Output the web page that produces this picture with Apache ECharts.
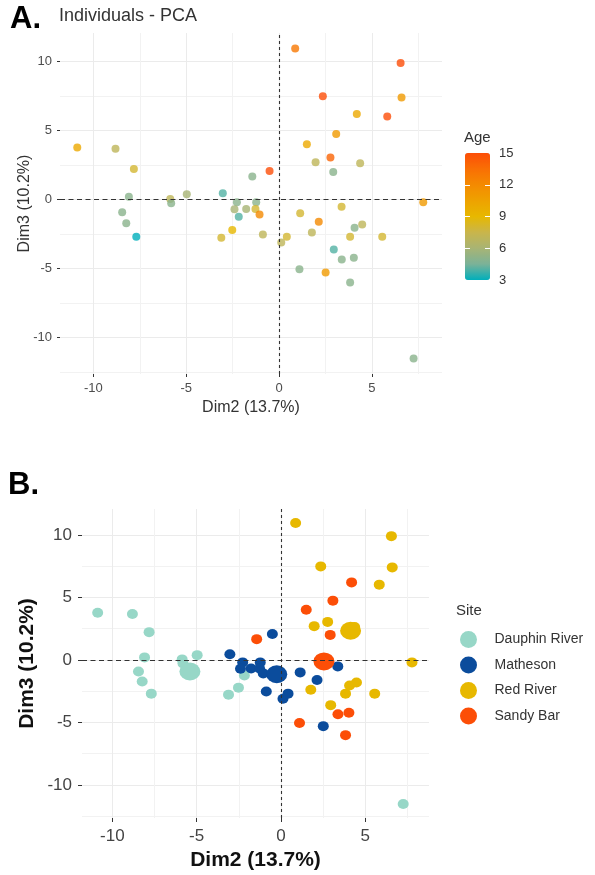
<!DOCTYPE html>
<html>
<head>
<meta charset="utf-8">
<script src="https://cdn.jsdelivr.net/npm/echarts@6/dist/echarts.min.js"></script>
<style>
  html, body { margin: 0; padding: 0; background: #fff; }
  #chart { width: 595px; height: 875px; }
</style>
</head>
<body>
<div id="chart"></div>
<script>
// PCA individual scores (Dim2, Dim3), fish age and sampling site
const dim2 = [0.87, -10.87, -8.81, -7.82, -1.44, -0.51, -8.09, -5.86, -5.81, -4.97,
  -3.03, -8.45, -8.23, -7.69, -3.11, -2.52, -2.27, -2.40, -2.17, -1.77,
  -1.23, -1.27, -1.05, -0.87, 0.12, 0.42, 1.14, 1.10, 6.55, 2.36,
  6.60, 4.19, 5.83, 3.08, 1.50, 1.97, 2.77, 4.37, 2.92, 2.14,
  1.77, 3.37, 4.07, 4.48, 3.83, 5.56, 2.95, 3.38, 4.03, 2.51,
  3.83, 7.77, 7.25];
const dim3 = [10.95, 3.77, 3.67, 2.22, 1.66, 2.07, 0.20, 0.04, -0.28, 0.38,
  0.45, -0.93, -1.73, -2.70, -2.78, -2.22, -0.20, -0.71, -1.25, -0.69,
  -0.20, -0.69, -1.08, -2.53, -3.11, -2.70, -1.00, -5.05, 9.90, 7.48,
  7.40, 6.20, 6.02, 4.74, 4.01, 2.70, 3.04, 2.63, 2.00, -1.61,
  -2.39, -0.52, -2.05, -1.81, -2.70, -2.70, -3.62, -4.35, -4.23, -5.30,
  -6.02, -0.20, -11.53];
const age = [13, 10, 7, 8, 5, 15, 5, 7, 5, 6,
  4, 5, 5, 3, 8, 9, 5, 6, 4, 6,
  5, 8, 12, 7, 7, 8, 8, 5, 15, 15,
  11, 10, 15, 11, 10, 7, 14, 7, 5, 12,
  7, 8, 5, 7, 8, 8, 4, 5, 5, 11,
  5, 11, 5];
const site = ['R', 'D', 'D', 'D', 'S', 'M', 'D', 'D', 'D', 'D',
  'M', 'D', 'D', 'D', 'D', 'D', 'M', 'M', 'D', 'M',
  'M', 'M', 'M', 'M', 'M', 'M', 'M', 'S', 'R', 'R',
  'R', 'S', 'R', 'S', 'S', 'R', 'R', 'R', 'S', 'M',
  'R', 'M', 'R', 'R', 'R', 'R', 'R', 'S', 'S', 'M',
  'S', 'R', 'D'];

// site groups and their mean points
const siteCodes = ['D', 'M', 'R', 'S'];
const siteNames = ['Dauphin River', 'Matheson', 'Red River', 'Sandy Bar'];
const siteColors = ['#97D7C7', '#0B4C9C', '#E7B800', '#FC4E07'];
const meanDim2 = [-5.40, -0.25, 4.13, 2.55];
const meanDim3 = [-0.93, -1.15, 2.33, -0.12];

// axis breaks
const xMajor = [-10, -5, 0, 5];
const xMinor = [-7.5, -2.5, 2.5, 7.5];
const yMajor = [-10, -5, 0, 5, 10];
const yMinor = [-12.5, -7.5, -2.5, 2.5, 7.5];
const ageBreaks = [3, 6, 9, 12, 15];
const ageInnerBreaks = [6, 9, 12];
const ageColors = ['#00AFBB', '#7BB298', '#A8B474', '#C9B54B', '#E7B800',
  '#EEA200', '#F48A01', '#F96F04', '#FC4E07'];

const FONT = 'Liberation Sans';
const X_RANGE = [-11.8, 8.78];
const Y_RANGE = [-12.65, 12.07];
const ellipse = 'path://M0,1A1,1 0 1,1 2,1A1,1 0 1,1 0,1Z';

function majorAxis(grid, ticks, big, extra) {
  return Object.assign({
    type: 'value', gridIndex: grid,
    axisLine: { show: false, onZero: false },
    axisTick: { show: true, length: big ? 4 : 3, customValues: ticks,
      lineStyle: { color: '#333', width: 1 } },
    axisLabel: { customValues: ticks, fontSize: big ? 17 : 13, color: big ? '#444' : '#4D4D4D',
      fontFamily: FONT, margin: big ? 10 : 8 },
    splitLine: { show: true, lineStyle: { color: '#EBEBEB', width: 1 } },
    nameMoveOverlap: false
  }, extra);
}
function minorAxis(grid, ticks, extra) {
  return Object.assign({
    type: 'value', gridIndex: grid,
    axisLine: { show: false, onZero: false },
    axisTick: { show: false, customValues: ticks },
    axisLabel: { show: false },
    splitLine: { show: true, lineStyle: { color: '#F2F2F2', width: 1 } }
  }, extra);
}

const zeroLines = (xi, yi) => ({
  type: 'scatter', xAxisIndex: xi, yAxisIndex: yi, data: [], z: 1, silent: true,
  markLine: {
    silent: true, symbol: 'none', animation: false, label: { show: false },
    data: [
      { xAxis: 0, lineStyle: { color: '#333', width: 1.1, type: [3, 3] } },
      { yAxis: 0, lineStyle: { color: '#333', width: 1.1, type: [5, 3.5] } }
    ]
  }
});

const xr = { min: X_RANGE[0], max: X_RANGE[1] };
const yr = { min: Y_RANGE[0], max: Y_RANGE[1] };

const siteSeries = siteCodes.map((code, k) => {
  const pts = [];
  for (let i = 0; i < dim2.length; i++) {
    if (site[i] === code) pts.push([dim2[i], dim3[i]]);
  }
  pts.push({ value: [meanDim2[k], meanDim3[k]], symbolSize: [21, 18] });
  return {
    type: 'scatter', name: siteNames[k], xAxisIndex: 2, yAxisIndex: 2,
    symbol: ellipse, symbolSize: [11, 10], z: 3,
    itemStyle: { color: siteColors[k], opacity: 1 },
    data: pts
  };
});

const option = {
  animation: false,
  textStyle: { fontFamily: FONT },
  title: [
    { text: 'A.', left: 10, top: 4, padding: 0,
      textStyle: { fontSize: 31, fontWeight: 'bold', color: '#000', fontFamily: FONT } },
    { text: 'Individuals - PCA', left: 59, top: 7, padding: 0,
      textStyle: { fontSize: 18, fontWeight: 'normal', color: '#333', fontFamily: FONT } },
    { text: 'Age', left: 464, top: 130, padding: 0,
      textStyle: { fontSize: 15, fontWeight: 'normal', color: '#333', fontFamily: FONT } },
    { text: 'B.', left: 8, top: 470, padding: 0,
      textStyle: { fontSize: 31, fontWeight: 'bold', color: '#000', fontFamily: FONT } },
    { text: 'Site', left: 456, top: 603, padding: 0,
      textStyle: { fontSize: 15, fontWeight: 'normal', color: '#333', fontFamily: FONT } }
  ],
  grid: [
    { left: 60, top: 33, width: 382, height: 341, outerBoundsMode: 'none' },
    { left: 82, top: 509, width: 347, height: 309, outerBoundsMode: 'none' },
    { left: 465, top: 153, width: 25, height: 127, outerBoundsMode: 'none' }
  ],
  xAxis: [
    majorAxis(0, xMajor, false, Object.assign({
      name: 'Dim2 (13.7%)', nameLocation: 'middle', nameGap: 26,
      nameTextStyle: { fontSize: 16, color: '#333', fontFamily: FONT }
    }, xr)),
    minorAxis(0, xMinor, xr),
    majorAxis(1, xMajor, true, Object.assign({
      name: 'Dim2 (13.7%)', nameLocation: 'middle', nameGap: 32,
      nameTextStyle: { fontSize: 21, fontWeight: 'bold', color: '#111', fontFamily: FONT }
    }, xr)),
    minorAxis(1, xMinor, xr),
    { type: 'value', gridIndex: 2, show: false, min: 0, max: 1 }
  ],
  yAxis: [
    majorAxis(0, yMajor, false, Object.assign({
      name: 'Dim3 (10.2%)', nameLocation: 'middle', nameGap: 27,
      nameTextStyle: { fontSize: 16, color: '#333', fontFamily: FONT }
    }, yr)),
    minorAxis(0, yMinor, yr),
    majorAxis(1, yMajor, true, Object.assign({
      name: 'Dim3 (10.2%)', nameLocation: 'middle', nameGap: 44,
      nameTextStyle: { fontSize: 21, fontWeight: 'bold', color: '#111', fontFamily: FONT }
    }, yr)),
    minorAxis(1, yMinor, yr),
    {
      type: 'value', gridIndex: 2, position: 'right', min: 3, max: 15, z: 10,
      axisLine: { show: false, onZero: false },
      axisTick: { show: true, inside: true, length: 5, customValues: ageInnerBreaks,
        lineStyle: { color: '#fff', width: 1 } },
      axisLabel: { customValues: ageBreaks, fontSize: 13, color: '#333', fontFamily: FONT, margin: 9 },
      splitLine: { show: false }
    },
    {
      type: 'value', gridIndex: 2, position: 'left', min: 3, max: 15, z: 10,
      axisLine: { show: false, onZero: false },
      axisTick: { show: true, inside: true, length: 5, customValues: ageInnerBreaks,
        lineStyle: { color: '#fff', width: 1 } },
      axisLabel: { show: false },
      splitLine: { show: false }
    }
  ],
  visualMap: {
    type: 'continuous', seriesIndex: 0, dimension: 2, min: 3, max: 15,
    left: 465, top: 153, itemWidth: 25, itemHeight: 127, padding: 0,
    calculable: false, hoverLink: false, text: null,
    inRange: { color: ageColors }
  },
  legend: {
    data: siteNames, orient: 'vertical', left: 460, top: 631,
    itemWidth: 22, itemHeight: 17, itemGap: 8.5, icon: ellipse,
    selectedMode: false, padding: 0,
    textStyle: { fontSize: 14, color: '#333', fontFamily: FONT, padding: [0, 0, 0, 10] }
  },
  series: [
    {
      type: 'scatter', xAxisIndex: 0, yAxisIndex: 0, symbolSize: 8, z: 3,
      data: dim2.map((x, i) => [x, dim3[i], age[i]])
    },
    zeroLines(0, 0),
    zeroLines(2, 2)
  ].concat(siteSeries)
};

const chart = echarts.init(document.getElementById('chart'), null, { renderer: 'canvas' });
chart.setOption(option);
</script>
</body>
</html>
